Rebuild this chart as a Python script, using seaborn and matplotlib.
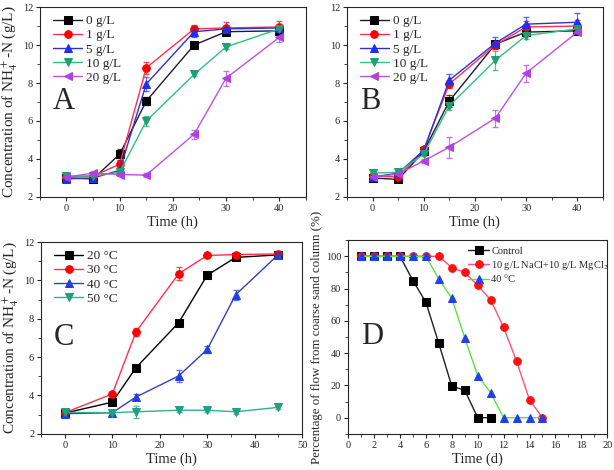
import matplotlib
matplotlib.use('Agg')
import matplotlib.pyplot as plt
from matplotlib.ticker import MultipleLocator
import seaborn as sns
import pandas as pd

# Panel A / B: time points (h) and NH4+-N concentration (g/L) at different salt levels
time_ab = [0, 5, 10, 15, 24, 30, 40]
salt_labels = ['0 g/L', '1 g/L', '5 g/L', '10 g/L', '20 g/L']

a_vals = {
    '0 g/L': [3.0, 2.95, 4.25, 7.05, 10.0, 10.7, 10.75],
    '1 g/L': [3.05, 3.1, 3.72, 8.8, 10.85, 10.9, 10.95],
    '5 g/L': [2.95, 3.0, 3.4, 7.95, 10.7, 10.85, 10.9],
    '10 g/L': [3.1, 3.1, 3.3, 6.0, 8.45, 9.9, 10.85],
    '20 g/L': [3.05, 3.25, 3.18, 3.15, 5.3, 8.25, 10.4],
}
a_err = {
    '0 g/L': [0.1, 0.1, 0.3, 0.2, 0.15, 0.1, 0.1],
    '1 g/L': [0.1, 0.1, 0.2, 0.3, 0.2, 0.3, 0.3],
    '5 g/L': [0.1, 0.1, 0.15, 0.35, 0.3, 0.1, 0.1],
    '10 g/L': [0.1, 0.1, 0.1, 0.25, 0.1, 0.1, 0.1],
    '20 g/L': [0.1, 0.1, 0.1, 0.1, 0.25, 0.4, 0.25],
}

b_vals = {
    '0 g/L': [3.0, 2.92, 4.4, 7.05, 10.05, 10.68, 10.75],
    '1 g/L': [3.1, 3.05, 4.5, 7.95, 10.0, 10.95, 11.0],
    '5 g/L': [3.05, 3.25, 4.45, 8.15, 10.1, 11.1, 11.2],
    '10 g/L': [3.25, 3.3, 4.25, 6.8, 9.2, 10.5, 10.85],
    '20 g/L': [3.05, 3.2, 3.9, 4.62, 6.15, 8.52, 10.68],
}
b_err = {
    '0 g/L': [0.15, 0.1, 0.1, 0.3, 0.1, 0.1, 0.1],
    '1 g/L': [0.1, 0.1, 0.1, 0.2, 0.2, 0.3, 0.3],
    '5 g/L': [0.1, 0.1, 0.1, 0.3, 0.3, 0.4, 0.5],
    '10 g/L': [0.1, 0.1, 0.1, 0.2, 0.5, 0.2, 0.1],
    '20 g/L': [0.1, 0.1, 0.1, 0.55, 0.45, 0.45, 0.1],
}

# Panel C: temperature
time_c = [0, 10, 15, 24, 30, 36, 45]
temp_labels = ['20 °C', '30 °C', '40 °C', '50 °C']
c_vals = {
    '20 °C': [3.08, 3.65, 5.45, 7.8, 10.27, 11.2, 11.33],
    '30 °C': [3.1, 4.08, 7.32, 10.35, 11.3, 11.35, 11.38],
    '40 °C': [3.05, 3.1, 3.92, 5.02, 6.4, 9.25, 11.35],
    '50 °C': [3.12, 3.1, 3.15, 3.23, 3.23, 3.15, 3.38],
}
c_err = {
    '20 °C': [0.1, 0.1, 0.1, 0.1, 0.1, 0.1, 0.1],
    '30 °C': [0.1, 0.1, 0.2, 0.35, 0.1, 0.1, 0.1],
    '40 °C': [0.1, 0.1, 0.15, 0.3, 0.2, 0.25, 0.1],
    '50 °C': [0.1, 0.1, 0.3, 0.1, 0.1, 0.1, 0.1],
}

# Panel D: percentage of flow from coarse sand column
d_labels = ['Control', '10 g/L NaCl+10 g/L MgCl$_2$', '40 °C']
d_days = {
    'Control': [1, 2, 3, 4, 5, 6, 7, 8, 9, 10, 11],
    '10 g/L NaCl+10 g/L MgCl$_2$': [1, 2, 3, 4, 5, 6, 7, 8, 9, 10, 11, 12, 13, 14, 15],
    '40 °C': [1, 2, 3, 4, 5, 6, 7, 8, 9, 10, 11, 12, 13, 14, 15],
}
d_vals = {
    'Control': [100, 100, 100, 100, 85, 71.5, 46, 19.5, 17, 0, 0],
    '10 g/L NaCl+10 g/L MgCl$_2$': [100, 100, 100, 100, 100, 100, 100, 93, 90, 82, 73, 56, 35, 11, 0],
    '40 °C': [100, 100, 100, 100, 100, 100, 86, 74, 49.5, 26, 15.5, 0, 0, 0, 0],
}

sns.set_style('ticks')
plt.rcParams['font.family'] = ['Liberation Serif', 'DejaVu Serif']
plt.rcParams['mathtext.fontset'] = 'stix'

salt_line = ['#1a1a3a', '#ff3050', '#3030d0', '#30c080', '#c050e0']
salt_mark = ['#000000', '#ff0000', '#1f2ff0', '#20a070', '#b040e0']
salt_shape = ['s', 'o', '^', 'v', '<']

temp_line = ['#000000', '#ff3050', '#3040c0', '#30b090']
temp_mark = ['#000000', '#ff0000', '#2040e0', '#20a080']
temp_shape = ['s', 'o', '^', 'v']

ylab = 'Concentration of NH$_4^+$-N (g/L)'

fig = plt.figure(figsize=(6.14, 4.70), dpi=100)
axA = fig.add_axes([0.065, 0.581, 0.433, 0.404])
axB = fig.add_axes([0.565, 0.581, 0.417, 0.404])
axC = fig.add_axes([0.067, 0.077, 0.425, 0.408])
axD = fig.add_axes([0.567, 0.077, 0.422, 0.412])


def draw_conc(ax, times, labels, vals, errs, lcols, mcols, shapes):
    rows = []
    for lab in labels:
        for t, v in zip(times, vals[lab]):
            rows.append({'time': t, 'conc': v, 'group': lab})
    df = pd.DataFrame(rows)
    for i, lab in enumerate(labels):
        ax.errorbar(times, vals[lab], yerr=errs[lab], fmt='none', ecolor=mcols[i],
                    elinewidth=0.8, capsize=2, alpha=0.7, zorder=2)
        sns.lineplot(data=df[df['group'] == lab], x='time', y='conc', ax=ax,
                     color=lcols[i], marker=shapes[i], markersize=5.5,
                     markerfacecolor=mcols[i], markeredgecolor=mcols[i],
                     linewidth=1.0, label=lab, zorder=3)


def style_axis(ax, xlim, xmaj, xmin, ylim, ymaj, ymin, xlabel, ylabel):
    ax.set_xlim(*xlim)
    ax.set_ylim(*ylim)
    ax.xaxis.set_major_locator(MultipleLocator(xmaj))
    ax.xaxis.set_minor_locator(MultipleLocator(xmin))
    ax.yaxis.set_major_locator(MultipleLocator(ymaj))
    ax.yaxis.set_minor_locator(MultipleLocator(ymin))
    ax.tick_params(which='major', length=3, width=0.8, labelsize=7.5, direction='out', pad=2)
    ax.tick_params(which='minor', length=2, width=0.6, direction='out')
    ax.set_xlabel(xlabel, fontsize=10.5, labelpad=2)
    ax.set_ylabel(ylabel, fontsize=11, labelpad=2)
    for s in ax.spines.values():
        s.set_linewidth(0.8)


draw_conc(axA, time_ab, salt_labels, a_vals, a_err, salt_line, salt_mark, salt_shape)
draw_conc(axB, time_ab, salt_labels, b_vals, b_err, salt_line, salt_mark, salt_shape)
draw_conc(axC, time_c, temp_labels, c_vals, c_err, temp_line, temp_mark, temp_shape)

style_axis(axA, (-5, 45), 10, 5, (2, 12), 2, 1, 'Time (h)', ylab)
style_axis(axB, (-5, 45), 10, 5, (2, 12), 2, 1, 'Time (h)', '')
style_axis(axC, (-5, 50), 10, 5, (2, 12), 2, 1, 'Time (h)', ylab)

# Panel D
d_line = ['#202020', '#ff5080', '#60e040']
d_mark = ['#000000', '#ff1010', '#2040f0']
d_shape = ['s', 'o', '^']
d_rows = []
for lab in d_labels:
    for t, v in zip(d_days[lab], d_vals[lab]):
        d_rows.append({'day': t, 'pct': v, 'group': lab})
d_df = pd.DataFrame(d_rows)
for i, lab in enumerate(d_labels):
    sns.lineplot(data=d_df[d_df['group'] == lab], x='day', y='pct', ax=axD,
                 color=d_line[i], marker=d_shape[i], markersize=5.5,
                 markerfacecolor=d_mark[i], markeredgecolor=d_mark[i],
                 linewidth=1.0, label=lab, zorder=3 + (i == 2))
style_axis(axD, (0, 20), 2, 1, (-10, 110), 20, 10, 'Time (d)',
           'Percentage of flow from coarse sand column (%)')
axD.yaxis.label.set_fontsize(9.3)

for ax in (axA, axB, axC):
    ax.legend(loc='upper left', bbox_to_anchor=(0.02, 1.0), frameon=False,
              fontsize=9.5, handlelength=2.2, labelspacing=0.15, handletextpad=0.3,
              borderaxespad=0.2)
axD.legend(loc='upper left', bbox_to_anchor=(0.44, 1.0), frameon=False,
           fontsize=7.5, handlelength=2.0, labelspacing=0.3, handletextpad=0.2,
           borderaxespad=0.2)

for ax, letter in zip((axA, axB, axC, axD), 'ABCD'):
    ax.text(0.05, 0.5, letter, transform=ax.transAxes, fontsize=22,
            va='center', ha='left')

fig.savefig('out.png', dpi=100)
